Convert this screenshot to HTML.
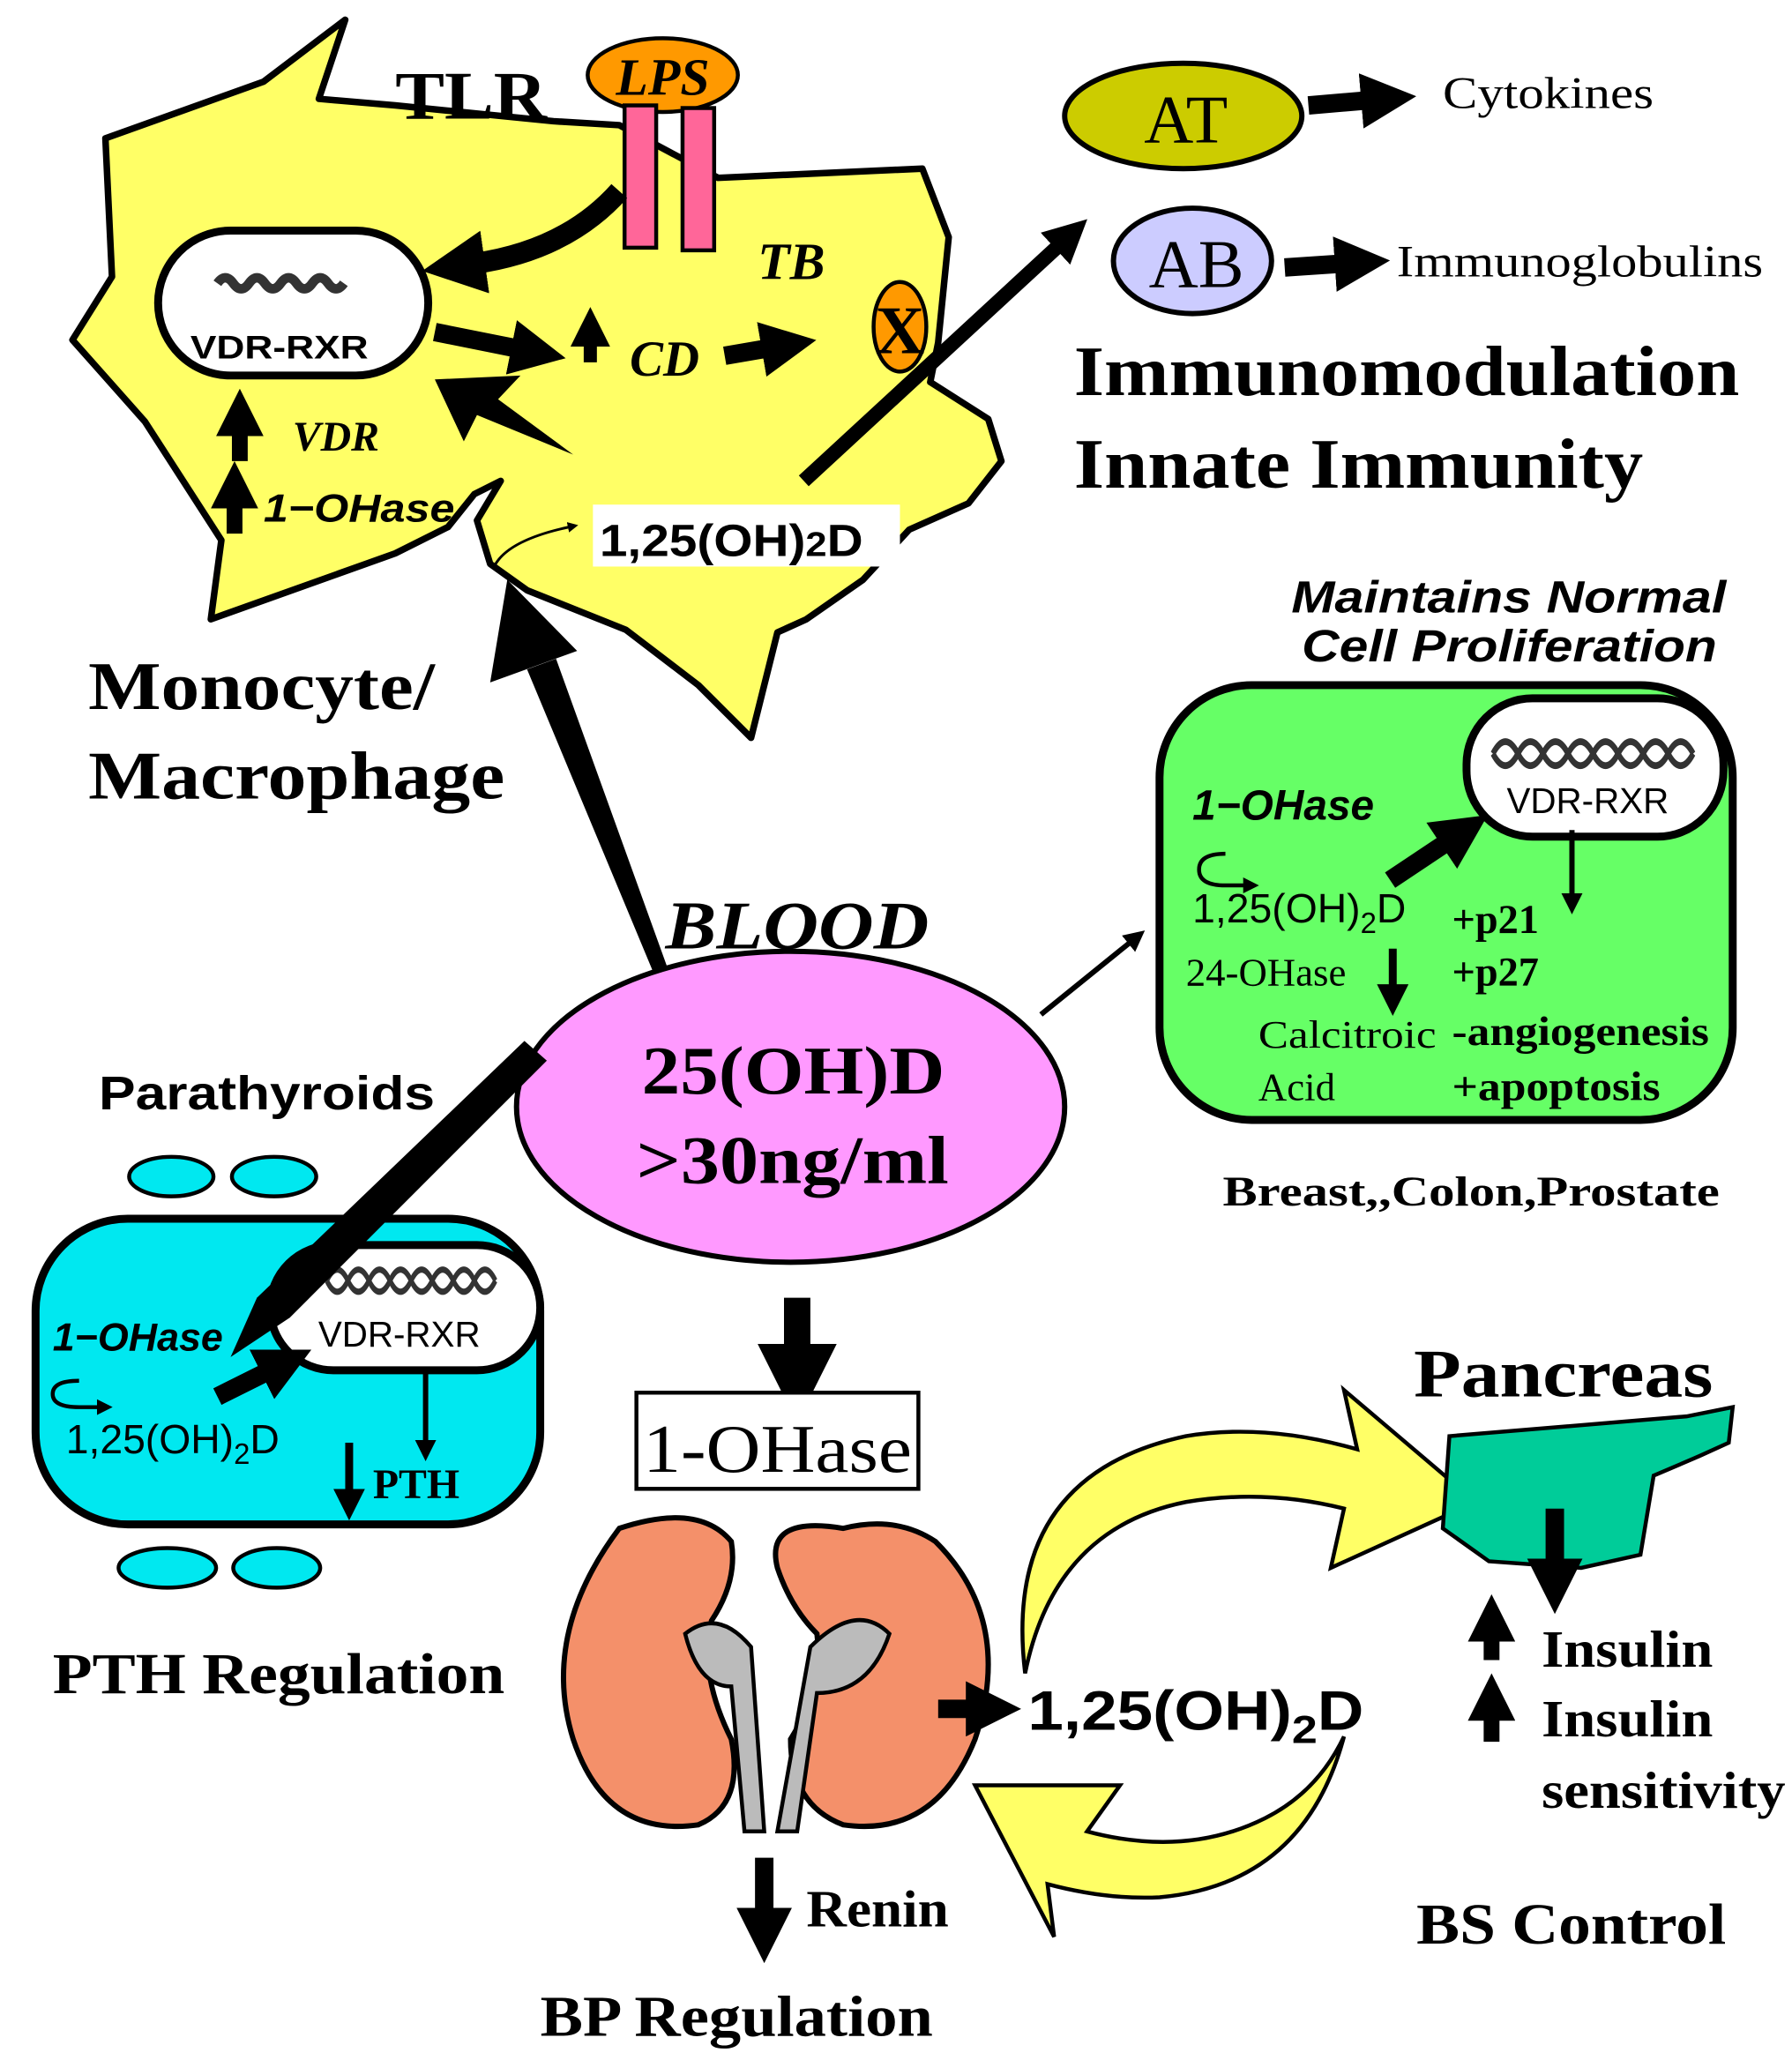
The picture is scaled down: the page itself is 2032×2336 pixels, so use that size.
<!DOCTYPE html>
<html><head><meta charset="utf-8"><style>
html,body{margin:0;padding:0;background:#fff;}
svg{display:block;}
.sb{font-family:"Liberation Serif",serif;font-weight:bold;}
.s{font-family:"Liberation Serif",serif;}
.ab{font-family:"Liberation Sans",sans-serif;font-weight:bold;}
.a{font-family:"Liberation Sans",sans-serif;}
</style></head><body>
<svg width="2032" height="2336" viewBox="0 0 1360 1563.5" preserveAspectRatio="none" xmlns="http://www.w3.org/2000/svg">
<defs>
<marker id="ah" markerWidth="3" markerHeight="3" refX="0.5" refY="1.5" orient="auto" markerUnits="strokeWidth"><path d="M0,0 L3,1.5 L0,3 z" fill="#000"/></marker>
<marker id="ah2" markerWidth="4" markerHeight="4" refX="0.5" refY="2" orient="auto" markerUnits="strokeWidth"><path d="M0,0 L4,2 L0,4 z" fill="#000"/></marker>
<g id="dna"><path d="M0,0 q10,-14 20,0 t20,0 t20,0 t20,0 t20,0 t20,0 t20,0 t20,0" fill="none" stroke="#333" stroke-width="4"/><path d="M0,0 q10,14 20,0 t20,0 t20,0 t20,0 t20,0 t20,0 t20,0 t20,0" fill="none" stroke="#333" stroke-width="4"/></g>
</defs>

<!-- macrophage -->
<path d="M80,105 L200,62 L262,15 L242,75 L300,80 L420,92 L470,95 L545,135 L700,128 L720,180 L712,260 L706,290 L750,318 L760,350 L735,382 L690,402 L655,440 L612,470 L590,480 L570,560 L530,520 L475,478 L400,448 L372,428 L362,395 L380,365 L360,375 L340,400 L300,420 L160,470 L168,410 L110,320 L55,258 L85,210 Z" fill="#ffff66" stroke="#000" stroke-width="5" stroke-linejoin="round"/>
<ellipse cx="503" cy="57" rx="57" ry="28" fill="#ff9900" stroke="#000" stroke-width="3"/>
<text x="503" y="72" text-anchor="middle" class="sb" font-style="italic" font-size="40">LPS</text>
<rect x="474" y="80" width="24" height="108" fill="#ff6699" stroke="#000" stroke-width="3"/>
<rect x="518" y="82" width="24" height="108" fill="#ff6699" stroke="#000" stroke-width="3"/>
<text x="300" y="90" class="sb" font-size="52" textLength="115" lengthAdjust="spacingAndGlyphs">TLR</text>
<rect x="120" y="175" width="205" height="110" rx="55" fill="#fff" stroke="#000" stroke-width="6"/>
<g transform="translate(165,215) scale(0.6)"><path d="M0,0 q10,-14 20,0 t20,0 t20,0 t20,0 t20,0 t20,0 t20,0 t20,0" fill="none" stroke="#333" stroke-width="12"/></g>
<text x="212" y="272" text-anchor="middle" class="ab" font-size="25" textLength="135" lengthAdjust="spacingAndGlyphs">VDR-RXR</text>
<path d="M470,145 Q430,190 360,200" fill="none" stroke="#000" stroke-width="16" marker-end="url(#ah)"/>
<line x1="330" y1="252" x2="395" y2="265" stroke="#000" stroke-width="14" marker-end="url(#ah)"/>
<line x1="448" y1="275" x2="448" y2="258" stroke="#000" stroke-width="10" marker-end="url(#ah)"/>
<text x="478" y="285" class="sb" font-style="italic" font-size="38">CD</text>
<line x1="550" y1="270" x2="585" y2="264" stroke="#000" stroke-width="14" marker-end="url(#ah)"/>
<text x="575" y="212" class="sb" font-style="italic" font-size="40">TB</text>
<ellipse cx="683" cy="248" rx="20" ry="34" fill="#ff9900" stroke="#000" stroke-width="3"/>
<text x="683" y="268" text-anchor="middle" class="sb" font-size="52">X</text>
<polygon points="330,288 395,285 378,303 435,345 362,315 352,335" fill="#000"/>
<line x1="182" y1="350" x2="182" y2="325" stroke="#000" stroke-width="12" marker-end="url(#ah)"/>
<line x1="178" y1="405" x2="178" y2="380" stroke="#000" stroke-width="12" marker-end="url(#ah)"/>
<text x="222" y="342" class="sb" font-style="italic" font-size="32">VDR</text>
<text x="200" y="396" class="ab" font-style="italic" font-size="30" textLength="145" lengthAdjust="spacingAndGlyphs">1−OHase</text>
<path d="M375,430 Q385,410 432,400" fill="none" stroke="#000" stroke-width="2" marker-end="url(#ah2)"/>
<rect x="450" y="383" width="233" height="47" fill="#fff"/>
<text x="455" y="422" class="ab" font-size="34" textLength="200" lengthAdjust="spacingAndGlyphs">1,25(OH)<tspan font-size="26">2</tspan>D</text>
<line x1="610" y1="365" x2="805" y2="185" stroke="#000" stroke-width="11" marker-end="url(#ah)"/>

<ellipse cx="898" cy="88" rx="90" ry="40" fill="#cccc00" stroke="#000" stroke-width="4"/>
<text x="900" y="108" text-anchor="middle" class="s" font-size="52">AT</text>
<line x1="993" y1="80" x2="1040" y2="76" stroke="#000" stroke-width="14" marker-end="url(#ah)"/>
<text x="1095" y="82" class="s" font-size="34" textLength="160" lengthAdjust="spacingAndGlyphs">Cytokines</text>
<ellipse cx="905" cy="198" rx="60" ry="40" fill="#ccccff" stroke="#000" stroke-width="4"/>
<text x="908" y="218" text-anchor="middle" class="s" font-size="52">AB</text>
<line x1="975" y1="203" x2="1020" y2="200" stroke="#000" stroke-width="14" marker-end="url(#ah)"/>
<text x="1060" y="210" class="s" font-size="34" textLength="278" lengthAdjust="spacingAndGlyphs">Immunoglobulins</text>
<text x="815" y="300" class="sb" font-size="54" textLength="505" lengthAdjust="spacingAndGlyphs">Immunomodulation</text>
<text x="815" y="370" class="sb" font-size="54" textLength="432" lengthAdjust="spacingAndGlyphs">Innate Immunity</text>
<text x="67" y="538" class="sb" font-size="52" textLength="263" lengthAdjust="spacingAndGlyphs">Monocyte/</text>
<text x="67" y="606" class="sb" font-size="52" textLength="316" lengthAdjust="spacingAndGlyphs">Macrophage</text>

<polygon points="500,748 510,744 422,500 400,508" fill="#000"/>
<polygon points="372,518 438,494 385,440" fill="#000"/>
<text x="505" y="720" class="sb" font-style="italic" font-size="52" textLength="200" lengthAdjust="spacingAndGlyphs">BLOOD</text>
<ellipse cx="600" cy="840" rx="208" ry="118" fill="#ff99ff" stroke="#000" stroke-width="4"/>
<text x="487" y="830" class="sb" font-size="52" textLength="230" lengthAdjust="spacingAndGlyphs">25(OH)D</text>
<text x="483" y="898" class="sb" font-size="52" textLength="237" lengthAdjust="spacingAndGlyphs">&gt;30ng/ml</text>

<!-- green box -->
<text x="980" y="465" class="ab" font-style="italic" font-size="34" textLength="330" lengthAdjust="spacingAndGlyphs">Maintains Normal</text>
<text x="988" y="502" class="ab" font-style="italic" font-size="34" textLength="315" lengthAdjust="spacingAndGlyphs">Cell Proliferation</text>
<rect x="880" y="520" width="435" height="330" rx="70" fill="#66ff66" stroke="#000" stroke-width="6"/>
<rect x="1113" y="530" width="195" height="105" rx="50" fill="#fff" stroke="#000" stroke-width="6"/>
<use href="#dna" transform="translate(1133,572) scale(0.95,1.3)"/>
<text x="1205" y="617" text-anchor="middle" class="a" font-size="27">VDR-RXR</text>
<text x="905" y="622" class="ab" font-style="italic" font-size="32">1−OHase</text>
<path d="M930,648 q-20,0 -20,12 q0,12 20,12 l15,0" fill="none" stroke="#000" stroke-width="3" marker-end="url(#ah2)"/>
<text x="905" y="700" class="a" font-size="31">1,25(OH)<tspan font-size="22" dy="8">2</tspan><tspan dy="-8">D</tspan></text>
<line x1="1055" y1="668" x2="1100" y2="638" stroke="#000" stroke-width="14" marker-end="url(#ah)"/>
<line x1="1193" y1="630" x2="1193" y2="680" stroke="#000" stroke-width="4" marker-end="url(#ah2)"/>
<text x="900" y="748" class="s" font-size="30">24-OHase</text>
<line x1="1057" y1="720" x2="1057" y2="750" stroke="#000" stroke-width="6" marker-end="url(#ah2)"/>
<text x="955" y="795" class="s" font-size="30" textLength="135" lengthAdjust="spacingAndGlyphs">Calcitroic</text>
<text x="955" y="835" class="s" font-size="30">Acid</text>
<text x="1102" y="708" class="sb" font-size="31">+p21</text>
<text x="1102" y="748" class="sb" font-size="31">+p27</text>
<text x="1102" y="793" class="sb" font-size="31" textLength="195" lengthAdjust="spacingAndGlyphs">-angiogenesis</text>
<text x="1102" y="835" class="sb" font-size="31" textLength="158" lengthAdjust="spacingAndGlyphs">+apoptosis</text>
<text x="928" y="915" class="sb" font-size="32" textLength="377" lengthAdjust="spacingAndGlyphs">Breast,,Colon,Prostate</text>
<line x1="790" y1="770" x2="858" y2="715" stroke="#000" stroke-width="4" marker-end="url(#ah2)"/>

<!-- parathyroid -->
<text x="75" y="842" class="ab" font-size="36" textLength="255" lengthAdjust="spacingAndGlyphs">Parathyroids</text>
<ellipse cx="130" cy="893" rx="32" ry="15" fill="#00e8f0" stroke="#000" stroke-width="3"/>
<ellipse cx="208" cy="893" rx="32" ry="15" fill="#00e8f0" stroke="#000" stroke-width="3"/>
<ellipse cx="127" cy="1190" rx="37" ry="15" fill="#00e8f0" stroke="#000" stroke-width="3"/>
<ellipse cx="210" cy="1190" rx="33" ry="15" fill="#00e8f0" stroke="#000" stroke-width="3"/>
<rect x="27" y="925" width="383" height="232" rx="70" fill="#00e8f0" stroke="#000" stroke-width="6"/>
<rect x="205" y="945" width="205" height="95" rx="48" fill="#fff" stroke="#000" stroke-width="6"/>
<use href="#dna" transform="translate(248,972) scale(0.8,1.2)"/>
<text x="303" y="1022" text-anchor="middle" class="a" font-size="27">VDR-RXR</text>
<text x="40" y="1025" class="ab" font-style="italic" font-size="30">1−OHase</text>
<path d="M60,1048 q-20,0 -20,10 q0,10 20,10 l15,0" fill="none" stroke="#000" stroke-width="3" marker-end="url(#ah2)"/>
<text x="50" y="1103" class="a" font-size="31">1,25(OH)<tspan font-size="22" dy="8">2</tspan><tspan dy="-8">D</tspan></text>
<line x1="165" y1="1060" x2="205" y2="1040" stroke="#000" stroke-width="14" marker-end="url(#ah)"/>
<line x1="323" y1="1040" x2="323" y2="1095" stroke="#000" stroke-width="4" marker-end="url(#ah2)"/>
<line x1="265" y1="1095" x2="265" y2="1133" stroke="#000" stroke-width="6" marker-end="url(#ah2)"/>
<text x="283" y="1137" class="sb" font-size="32">PTH</text>
<polygon points="398,790 415,805 220,1000 175,1030 195,985" fill="#000"/>
<text x="40" y="1285" class="sb" font-size="44" textLength="343" lengthAdjust="spacingAndGlyphs">PTH Regulation</text>

<!-- kidney -->
<line x1="605" y1="985" x2="605" y2="1030" stroke="#000" stroke-width="20" marker-end="url(#ah)"/>
<rect x="483" y="1057" width="214" height="73" fill="#fff" stroke="#000" stroke-width="3"/>
<text x="488" y="1117" class="s" font-size="52" textLength="204" lengthAdjust="spacingAndGlyphs">1-OHase</text>
<path d="M470,1160 Q530,1140 555,1170 Q560,1200 540,1230 Q530,1270 555,1320 Q565,1370 530,1385 Q460,1395 435,1320 Q410,1240 470,1160 Z" fill="#f4906a" stroke="#000" stroke-width="4"/>
<path d="M640,1160 Q580,1150 590,1190 Q600,1220 620,1240 Q625,1280 600,1320 Q600,1370 640,1385 Q710,1395 740,1320 Q770,1230 710,1170 Q680,1150 640,1160 Z" fill="#f4906a" stroke="#000" stroke-width="4"/>
<path d="M520,1240 Q545,1220 570,1250 L580,1390 L565,1390 L555,1280 Q530,1280 520,1240 Z" fill="#bbb" stroke="#000" stroke-width="3"/>
<path d="M675,1240 Q650,1215 615,1250 L590,1390 L605,1390 L620,1285 Q660,1285 675,1240 Z" fill="#bbb" stroke="#000" stroke-width="3"/>
<line x1="712" y1="1297" x2="740" y2="1297" stroke="#000" stroke-width="14" marker-end="url(#ah)"/>
<text x="780" y="1313" class="ab" font-size="42" textLength="255" lengthAdjust="spacingAndGlyphs">1,25(OH)<tspan font-size="30" dy="10">2</tspan><tspan dy="-10">D</tspan></text>
<line x1="580" y1="1410" x2="580" y2="1455" stroke="#000" stroke-width="14" marker-end="url(#ah)"/>
<text x="612" y="1462" class="sb" font-size="40" textLength="108" lengthAdjust="spacingAndGlyphs">Renin</text>
<text x="410" y="1545" class="sb" font-size="44" textLength="298" lengthAdjust="spacingAndGlyphs">BP Regulation</text>

<!-- yellow arrows -->
<path d="M778,1270 Q760,1120 900,1090 Q960,1080 1030,1100 L1020,1055 L1120,1140 L1010,1190 L1020,1145 Q960,1130 900,1140 Q800,1160 778,1270 Z" fill="#ffff66" stroke="#000" stroke-width="3"/>
<path d="M1020,1318 Q990,1430 880,1440 Q840,1442 795,1430 L800,1470 L740,1355 L850,1355 L825,1390 Q900,1410 960,1380 Q1000,1360 1020,1318 Z" fill="#ffff66" stroke="#000" stroke-width="3"/>

<!-- pancreas -->
<text x="1073" y="1060" class="sb" font-size="52" textLength="227" lengthAdjust="spacingAndGlyphs">Pancreas</text>
<path d="M1100,1090 L1280,1075 L1315,1068 L1312,1095 L1290,1105 L1255,1120 L1245,1180 L1200,1190 L1130,1185 L1095,1160 Z" fill="#00cc99" stroke="#000" stroke-width="3"/>
<line x1="1180" y1="1145" x2="1180" y2="1190" stroke="#000" stroke-width="14" marker-end="url(#ah)"/>
<line x1="1132" y1="1260" x2="1132" y2="1240" stroke="#000" stroke-width="12" marker-end="url(#ah)"/>
<line x1="1132" y1="1322" x2="1132" y2="1300" stroke="#000" stroke-width="12" marker-end="url(#ah)"/>
<text x="1170" y="1265" class="sb" font-size="40" textLength="130" lengthAdjust="spacingAndGlyphs">Insulin</text>
<text x="1170" y="1318" class="sb" font-size="40" textLength="130" lengthAdjust="spacingAndGlyphs">Insulin</text>
<text x="1170" y="1372" class="sb" font-size="40" textLength="185" lengthAdjust="spacingAndGlyphs">sensitivity</text>
<text x="1075" y="1475" class="sb" font-size="44" textLength="235" lengthAdjust="spacingAndGlyphs">BS Control</text>
</svg>
</body></html>
